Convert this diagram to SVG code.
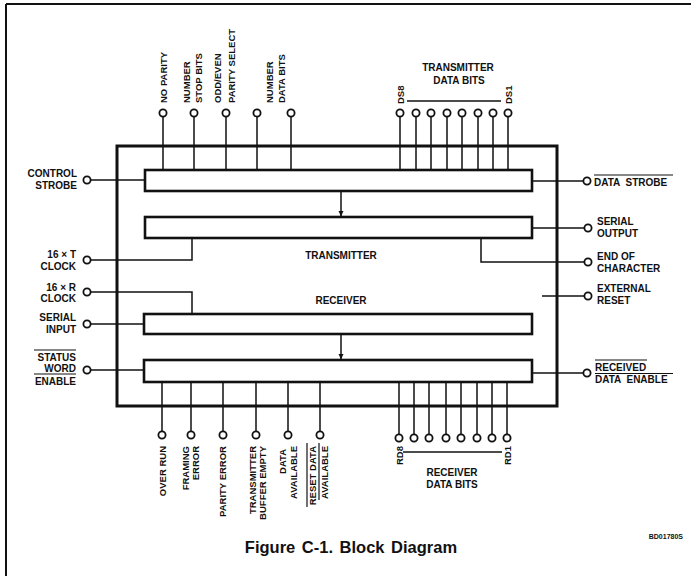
<svg xmlns="http://www.w3.org/2000/svg" width="691" height="576" viewBox="0 0 691 576">
<style>
.t{font-family:"Liberation Sans",Arial,sans-serif;font-weight:bold;font-size:10px;fill:#111}
.v{font-family:"Liberation Sans",Arial,sans-serif;font-weight:bold;font-size:9.5px;fill:#111}
.s{font-family:"Liberation Sans",Arial,sans-serif;font-weight:bold;font-size:7px;fill:#111}
.cap{font-family:"Liberation Sans",Arial,sans-serif;font-weight:bold;font-size:16.5px;fill:#111;word-spacing:2px}
.reg{fill:#fff;stroke:#111;stroke-width:2.6}
.box{fill:none;stroke:#111;stroke-width:3}
.w{fill:none;stroke:#111;stroke-width:1.5}
.pin{fill:#fff;stroke:#111;stroke-width:1.8}
.bar{stroke:#111;stroke-width:1.2}
</style>
<defs>
<marker id="ah" markerWidth="6" markerHeight="6" refX="5" refY="3" orient="auto" markerUnits="userSpaceOnUse">
<path d="M0,0.5 L5.5,3 L0,5.5 z" fill="#111"/>
</marker>
</defs>
<rect width="691" height="576" fill="#fff"/>
<g id="frame">
<line x1="6" y1="4" x2="691" y2="4" stroke="#111" stroke-width="2"/>
<line x1="6" y1="4" x2="6" y2="576" stroke="#111" stroke-width="2"/>
</g>

<g id="connectors">
<path class="w" d="M163,117 V170 M194,117 V170 M226,117 V170 M257,117 V170 M291,117 V170"/>
<path class="w" d="M400,117 V170 M416,117 V170 M431,117 V170 M447,117 V170 M462,117 V170 M478,117 V170 M493,117 V170 M508,117 V170"/>
<line class="w" x1="407" y1="101" x2="501" y2="101" stroke-width="1"/>
<path class="w" d="M91,180 H145"/>
<path class="w" d="M91,260 H192 V238"/>
<path class="w" d="M91,292 H192 V314"/>
<path class="w" d="M91,324 H144"/>
<path class="w" d="M91,370 H144"/>
<path class="w" d="M532,181 H583"/>
<path class="w" d="M532,228 H584"/>
<path class="w" d="M481,238 V262 H584"/>
<path class="w" d="M542,296 H584"/>
<path class="w" d="M532,373 H583"/>
<line class="w" x1="341" y1="191" x2="341" y2="216" marker-end="url(#ah)" stroke-width="1.2"/>
<line class="w" x1="341" y1="334" x2="341" y2="359" marker-end="url(#ah)" stroke-width="1.2"/>
<path class="w" d="M162,382 V431 M191,382 V431 M223,382 V431 M256,382 V431 M288,382 V431 M320,382 V431"/>
<path class="w" d="M399,382 V434 M414,382 V434 M429,382 V434 M446,382 V434 M461,382 V434 M477,382 V434 M492,382 V434 M507,382 V434"/>
<line class="w" x1="403" y1="452" x2="502" y2="452" stroke-width="1"/>
</g>

<g id="chip">
<rect class="box" x="117" y="146" width="440" height="260"/>
<text class="t" x="341" y="258.6" text-anchor="middle">TRANSMITTER</text>
<text class="t" x="341" y="303.6" text-anchor="middle">RECEIVER</text>
</g>
<g id="tx-buffer"><rect class="reg" x="145" y="170" width="387" height="21"/></g>
<g id="tx-register"><rect class="reg" x="145" y="217" width="387" height="21"/></g>
<g id="rx-register"><rect class="reg" x="144" y="314" width="388" height="20"/></g>
<g id="rx-buffer"><rect class="reg" x="144" y="360" width="388" height="22"/></g>

<g id="pin-no-parity">
<circle class="pin" cx="163" cy="113" r="3.6"/>
<text class="v" transform="translate(166.5,103) rotate(-90)">NO PARITY</text>
</g>
<g id="pin-stop-bits">
<circle class="pin" cx="194" cy="113" r="3.6"/>
<text class="v" transform="translate(190,103) rotate(-90)">NUMBER</text>
<text class="v" transform="translate(201.5,103) rotate(-90)">STOP BITS</text>
</g>
<g id="pin-parity-select">
<circle class="pin" cx="226" cy="113" r="3.6"/>
<text class="v" transform="translate(221,103) rotate(-90)">ODD/EVEN</text>
<text class="v" transform="translate(234.5,103) rotate(-90)">PARITY SELECT</text>
</g>
<g id="pin-data-bits">
<circle class="pin" cx="257" cy="113" r="3.6"/>
<circle class="pin" cx="291" cy="113" r="3.6"/>
<text class="v" transform="translate(273,103) rotate(-90)">NUMBER</text>
<text class="v" transform="translate(285,103) rotate(-90)">DATA BITS</text>
</g>

<g id="tx-data-bits">
<circle class="pin" cx="400" cy="113" r="3.6"/>
<circle class="pin" cx="416" cy="113" r="3.6"/>
<circle class="pin" cx="431" cy="113" r="3.6"/>
<circle class="pin" cx="447" cy="113" r="3.6"/>
<circle class="pin" cx="462" cy="113" r="3.6"/>
<circle class="pin" cx="478" cy="113" r="3.6"/>
<circle class="pin" cx="493" cy="113" r="3.6"/>
<circle class="pin" cx="508" cy="113" r="3.6"/>
<text class="v" transform="translate(403.5,104) rotate(-90)">DS8</text>
<text class="v" transform="translate(511.5,104) rotate(-90)">DS1</text>
<text class="t" x="458" y="70.6" text-anchor="middle">TRANSMITTER</text>
<text class="t" x="459" y="83.6" text-anchor="middle">DATA BITS</text>
</g>

<g id="pin-control-strobe">
<circle class="pin" cx="87" cy="180" r="3.6"/>
<text class="t" x="77" y="176.6" text-anchor="end">CONTROL</text>
<text class="t" x="77" y="188.6" text-anchor="end">STROBE</text>
</g>
<g id="pin-16t-clock">
<circle class="pin" cx="87" cy="260" r="3.6"/>
<text class="t" x="76" y="257.6" text-anchor="end">16 × T</text>
<text class="t" x="76" y="269.6" text-anchor="end">CLOCK</text>
</g>
<g id="pin-16r-clock">
<circle class="pin" cx="87" cy="292" r="3.6"/>
<text class="t" x="76" y="290.6" text-anchor="end">16 × R</text>
<text class="t" x="76" y="302" text-anchor="end">CLOCK</text>
</g>
<g id="pin-serial-input">
<circle class="pin" cx="87" cy="324" r="3.6"/>
<text class="t" x="76" y="320.6" text-anchor="end">SERIAL</text>
<text class="t" x="76" y="332.6" text-anchor="end">INPUT</text>
</g>
<g id="pin-status-word-enable">
<circle class="pin" cx="87" cy="370" r="3.6"/>
<line class="bar" x1="34" y1="350" x2="76" y2="350"/>
<text class="t" x="76" y="360.6" text-anchor="end">STATUS</text>
<text class="t" x="76" y="372.4" text-anchor="end">WORD</text>
<line class="bar" x1="34" y1="374" x2="76" y2="374"/>
<text class="t" x="76" y="384.6" text-anchor="end">ENABLE</text>
</g>

<g id="pin-data-strobe">
<circle class="pin" cx="587" cy="181" r="3.6"/>
<line class="bar" x1="594" y1="175" x2="673" y2="175"/>
<text class="t" x="594" y="185.6" xml:space="preserve">DATA  STROBE</text>
</g>
<g id="pin-serial-output">
<circle class="pin" cx="588" cy="228" r="3.6"/>
<text class="t" x="597" y="224.6">SERIAL</text>
<text class="t" x="597" y="236.6">OUTPUT</text>
</g>
<g id="pin-end-of-character">
<circle class="pin" cx="588" cy="262" r="3.6"/>
<text class="t" x="597" y="259.6">END OF</text>
<text class="t" x="597" y="271.6">CHARACTER</text>
</g>
<g id="pin-external-reset">
<circle class="pin" cx="588" cy="296" r="3.6"/>
<text class="t" x="597" y="291.6">EXTERNAL</text>
<text class="t" x="597" y="303.6">RESET</text>
</g>
<g id="pin-received-data-enable">
<circle class="pin" cx="587" cy="373" r="3.6"/>
<line class="bar" x1="595" y1="360" x2="647" y2="360"/>
<text class="t" x="595" y="370.6">RECEIVED</text>
<line class="bar" x1="595" y1="373.5" x2="673" y2="373.5"/>
<text class="t" x="595" y="383" xml:space="preserve">DATA  ENABLE</text>
</g>

<g id="pin-over-run">
<circle class="pin" cx="162" cy="435" r="3.6"/>
<text class="v" transform="translate(165.5,446) rotate(-90)" text-anchor="end">OVER RUN</text>
</g>
<g id="pin-framing-error">
<circle class="pin" cx="191" cy="435" r="3.6"/>
<text class="v" transform="translate(189,446) rotate(-90)" text-anchor="end">FRAMING</text>
<text class="v" transform="translate(199,446) rotate(-90)" text-anchor="end">ERROR</text>
</g>
<g id="pin-parity-error">
<circle class="pin" cx="223" cy="435" r="3.6"/>
<text class="v" transform="translate(226,446) rotate(-90)" text-anchor="end">PARITY ERROR</text>
</g>
<g id="pin-tbe">
<circle class="pin" cx="256" cy="435" r="3.6"/>
<text class="v" transform="translate(256,446) rotate(-90)" text-anchor="end">TRANSMITTER</text>
<text class="v" transform="translate(266,446) rotate(-90)" text-anchor="end">BUFFER EMPTY</text>
</g>
<g id="pin-data-available">
<circle class="pin" cx="288" cy="435" r="3.6"/>
<text class="v" transform="translate(286,449) rotate(-90)" text-anchor="end">DATA</text>
<text class="v" transform="translate(297,446) rotate(-90)" text-anchor="end">AVAILABLE</text>
</g>
<g id="pin-reset-data-available">
<circle class="pin" cx="320" cy="435" r="3.6"/>
<line class="bar" x1="307" y1="443" x2="307" y2="507"/>
<text class="v" transform="translate(316,446) rotate(-90)" text-anchor="end">RESET DATA</text>
<line class="bar" x1="319" y1="443" x2="319" y2="500"/>
<text class="v" transform="translate(328,446) rotate(-90)" text-anchor="end">AVAILABLE</text>
</g>

<g id="rx-data-bits">
<circle class="pin" cx="399" cy="438" r="3.6"/>
<circle class="pin" cx="414" cy="438" r="3.6"/>
<circle class="pin" cx="429" cy="438" r="3.6"/>
<circle class="pin" cx="446" cy="438" r="3.6"/>
<circle class="pin" cx="461" cy="438" r="3.6"/>
<circle class="pin" cx="477" cy="438" r="3.6"/>
<circle class="pin" cx="492" cy="438" r="3.6"/>
<circle class="pin" cx="507" cy="438" r="3.6"/>
<text class="v" transform="translate(402.5,465) rotate(-90)">RD8</text>
<text class="v" transform="translate(510.5,465) rotate(-90)">RD1</text>
<text class="t" x="452" y="475.6" text-anchor="middle">RECEIVER</text>
<text class="t" x="452" y="488" text-anchor="middle">DATA BITS</text>
</g>

<g id="caption">
<text class="s" x="683" y="539" text-anchor="end">BD01780S</text>
<text class="cap" x="351" y="553" text-anchor="middle">Figure C-1. Block Diagram</text>
</g>
</svg>
